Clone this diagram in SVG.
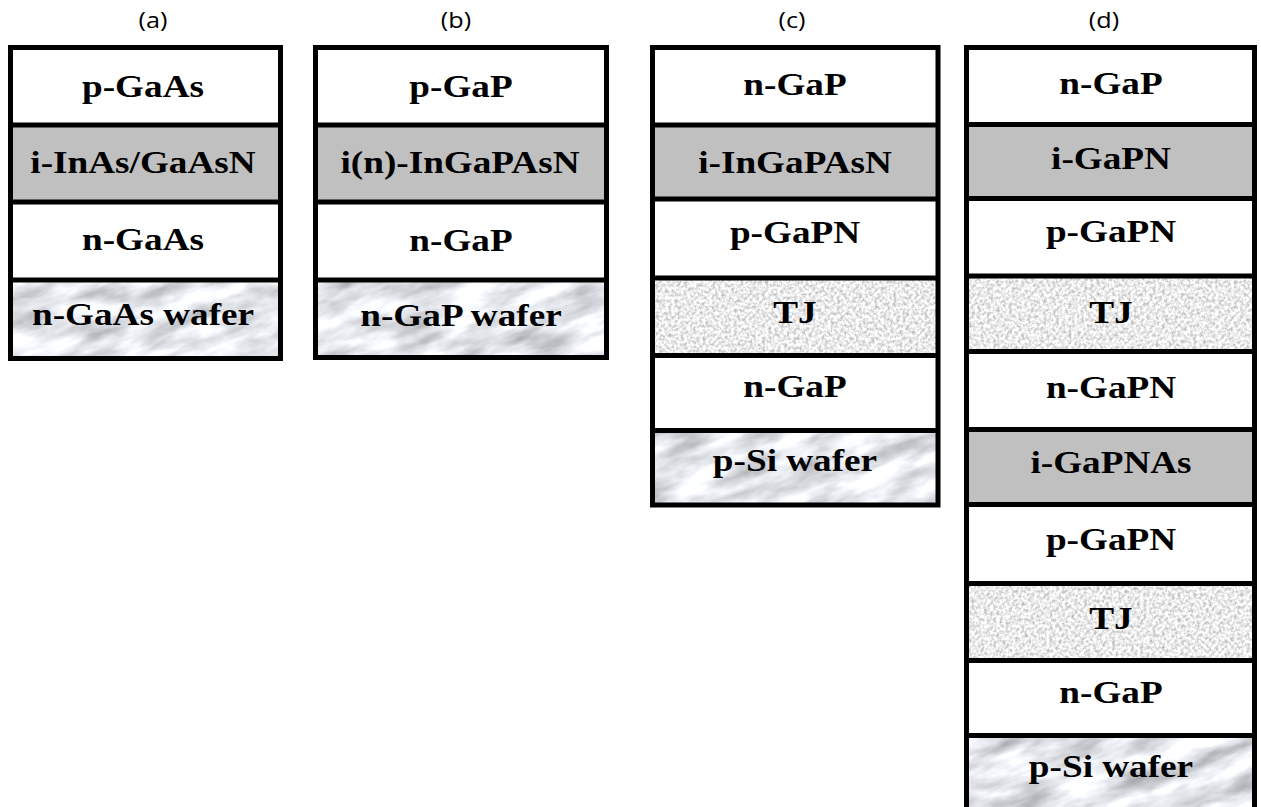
<svg xmlns="http://www.w3.org/2000/svg" width="1261" height="807" viewBox="0 0 1261 807">
  <style>
    .title { font-family: "Open Sans", "Liberation Sans", Arial, sans-serif; font-size: 21px; fill: #000; text-anchor: middle; }
    .lbl { font-family: "Liberation Serif", "Times New Roman", serif; font-weight: bold; font-size: 31px; fill: #000; text-anchor: middle; }
    .plain { fill: #ffffff; }
    .active { fill: #c0c0c0; }
    .tjbase { fill: #e6e6e6; }
    .waferbase { fill: #e2e4e8; }
    .sep { stroke: #000; stroke-width: 5; fill: none; }
    .frame { stroke: #000; stroke-width: 5; fill: none; }
  </style>
  <defs>
    <!-- marble-like streaks for substrate wafers -->
    <filter id="marble" x="0" y="0" width="1" height="1" color-interpolation-filters="sRGB">
      <feTurbulence type="fractalNoise" baseFrequency="0.018 0.055" numOctaves="4" seed="5" result="n"/>
      <feColorMatrix in="n" type="matrix" values="0.58 0 0 0 0.605  0.58 0 0 0 0.615  0.58 0 0 0 0.635  0 0 0 0 1"/>
      <feComposite in2="SourceGraphic" operator="in"/>
    </filter>
    <!-- fine grain for tunnel junction layers -->
    <filter id="grain" x="0" y="0" width="1" height="1" color-interpolation-filters="sRGB">
      <feTurbulence type="fractalNoise" baseFrequency="0.32" numOctaves="3" seed="9" result="n"/>
      <feColorMatrix in="n" type="matrix" values="0.58 0 0 0 0.63  0.58 0 0 0 0.63  0.58 0 0 0 0.63  0 0 0 0 1"/>
      <feComposite in2="SourceGraphic" operator="in"/>
    </filter>
    <clipPath id="clipWa"><rect x="10.5" y="280" width="270" height="78.5"/></clipPath>
    <clipPath id="clipWb"><rect x="315.5" y="280" width="291" height="77.5"/></clipPath>
    <clipPath id="clipWc"><rect x="652.5" y="430.5" width="285.5" height="74.5"/></clipPath>
    <clipPath id="clipWd"><rect x="966.5" y="735.5" width="288" height="76.5"/></clipPath>
  </defs>

  <!-- column captions -->
  <g id="titles">
    <text class="title" transform="translate(153 28) scale(1.2 1)">(a)</text>
    <text class="title" transform="translate(456 28) scale(1.2 1)">(b)</text>
    <text class="title" transform="translate(792 28) scale(1.2 1)">(c)</text>
    <text class="title" transform="translate(1104 27.5) scale(1.2 1)">(d)</text>
  </g>

  <!-- stack (a): InAs/GaAsN on GaAs -->
  <g id="stack-a">
    <g id="a-pGaAs">
      <rect class="plain" x="10.5" y="47.5" width="270" height="77.5"/>
      <text class="lbl" transform="translate(143 96.5) scale(1.2 1)">p-GaAs</text>
    </g>
    <g id="a-iInAsGaAsN">
      <rect class="active" x="10.5" y="125" width="270" height="77"/>
      <text class="lbl" transform="translate(143 172.5) scale(1.2 1)">i-InAs/GaAsN</text>
    </g>
    <g id="a-nGaAs">
      <rect class="plain" x="10.5" y="202" width="270" height="78"/>
      <text class="lbl" transform="translate(143 250) scale(1.2 1)">n-GaAs</text>
    </g>
    <g id="a-wafer">
      <rect class="waferbase" x="10.5" y="280" width="270" height="78.5"/>
      <g clip-path="url(#clipWa)">
        <rect x="-20" y="200" width="330" height="240" filter="url(#marble)" fill="#fff" transform="rotate(-18 145 319)"/>
      </g>
      <text class="lbl" transform="translate(143 325) scale(1.2 1)">n-GaAs wafer</text>
    </g>
    <path class="sep" d="M10.5 125H280.5M10.5 202H280.5M10.5 280H280.5"/>
    <rect class="frame" x="10.5" y="47.5" width="270" height="311"/>
  </g>

  <!-- stack (b): InGaPAsN on GaP -->
  <g id="stack-b">
    <g id="b-pGaP">
      <rect class="plain" x="315.5" y="47.5" width="291" height="77.5"/>
      <text class="lbl" transform="translate(461 96.5) scale(1.2 1)">p-GaP</text>
    </g>
    <g id="b-iInGaPAsN">
      <rect class="active" x="315.5" y="125" width="291" height="77"/>
      <text class="lbl" transform="translate(460 172.5) scale(1.2 1)">i(n)-InGaPAsN</text>
    </g>
    <g id="b-nGaP">
      <rect class="plain" x="315.5" y="202" width="291" height="78"/>
      <text class="lbl" transform="translate(461 250.5) scale(1.2 1)">n-GaP</text>
    </g>
    <g id="b-wafer">
      <rect class="waferbase" x="315.5" y="280" width="291" height="77.5"/>
      <g clip-path="url(#clipWb)">
        <rect x="280" y="200" width="360" height="240" filter="url(#marble)" fill="#fff" transform="rotate(-18 461 319)"/>
      </g>
      <text class="lbl" transform="translate(461 326) scale(1.2 1)">n-GaP wafer</text>
    </g>
    <path class="sep" d="M315.5 125H606.5M315.5 202H606.5M315.5 280H606.5"/>
    <rect class="frame" x="315.5" y="47.5" width="291" height="310"/>
  </g>

  <!-- stack (c): single junction on Si with tunnel junction -->
  <g id="stack-c">
    <g id="c-nGaP">
      <rect class="plain" x="652.5" y="47.5" width="285.5" height="77.5"/>
      <text class="lbl" transform="translate(795 94.5) scale(1.2 1)">n-GaP</text>
    </g>
    <g id="c-iInGaPAsN">
      <rect class="active" x="652.5" y="125" width="285.5" height="74"/>
      <text class="lbl" transform="translate(795 172.5) scale(1.2 1)">i-InGaPAsN</text>
    </g>
    <g id="c-pGaPN">
      <rect class="plain" x="652.5" y="199" width="285.5" height="79"/>
      <text class="lbl" transform="translate(795 242.5) scale(1.2 1)">p-GaPN</text>
    </g>
    <g id="c-TJ">
      <rect class="tjbase" x="652.5" y="278" width="285.5" height="77.5" filter="url(#grain)"/>
      <text class="lbl" transform="translate(795 322.5) scale(1.2 1)">TJ</text>
    </g>
    <g id="c-nGaP2">
      <rect class="plain" x="652.5" y="355.5" width="285.5" height="75"/>
      <text class="lbl" transform="translate(795 396.5) scale(1.2 1)">n-GaP</text>
    </g>
    <g id="c-wafer">
      <rect class="waferbase" x="652.5" y="430.5" width="285.5" height="74.5"/>
      <g clip-path="url(#clipWc)">
        <rect x="615" y="350" width="360" height="240" filter="url(#marble)" fill="#fff" transform="rotate(-18 795 468)"/>
      </g>
      <text class="lbl" transform="translate(795 470.5) scale(1.2 1)">p-Si wafer</text>
    </g>
    <path class="sep" d="M652.5 125H938M652.5 199H938M652.5 278H938M652.5 355.5H938M652.5 430.5H938"/>
    <rect class="frame" x="652.5" y="47.5" width="285.5" height="457.5"/>
  </g>

  <!-- stack (d): tandem GaPN / GaPNAs on Si -->
  <g id="stack-d">
    <g id="d-nGaP">
      <rect class="plain" x="966.5" y="47.5" width="288" height="77"/>
      <text class="lbl" transform="translate(1111 94) scale(1.2 1)">n-GaP</text>
    </g>
    <g id="d-iGaPN">
      <rect class="active" x="966.5" y="124.5" width="288" height="74"/>
      <text class="lbl" transform="translate(1111 168.5) scale(1.2 1)">i-GaPN</text>
    </g>
    <g id="d-pGaPN">
      <rect class="plain" x="966.5" y="198.5" width="288" height="77.5"/>
      <text class="lbl" transform="translate(1111 242) scale(1.2 1)">p-GaPN</text>
    </g>
    <g id="d-TJ1">
      <rect class="tjbase" x="966.5" y="276" width="288" height="75.5" filter="url(#grain)"/>
      <text class="lbl" transform="translate(1111 322.5) scale(1.2 1)">TJ</text>
    </g>
    <g id="d-nGaPN">
      <rect class="plain" x="966.5" y="351.5" width="288" height="78"/>
      <text class="lbl" transform="translate(1111 398) scale(1.2 1)">n-GaPN</text>
    </g>
    <g id="d-iGaPNAs">
      <rect class="active" x="966.5" y="429.5" width="288" height="75"/>
      <text class="lbl" transform="translate(1111 472.5) scale(1.2 1)">i-GaPNAs</text>
    </g>
    <g id="d-pGaPN2">
      <rect class="plain" x="966.5" y="504.5" width="288" height="79"/>
      <text class="lbl" transform="translate(1111 550) scale(1.2 1)">p-GaPN</text>
    </g>
    <g id="d-TJ2">
      <rect class="tjbase" x="966.5" y="583.5" width="288" height="77" filter="url(#grain)"/>
      <text class="lbl" transform="translate(1111 629) scale(1.2 1)">TJ</text>
    </g>
    <g id="d-nGaP2">
      <rect class="plain" x="966.5" y="660.5" width="288" height="75"/>
      <text class="lbl" transform="translate(1111 703) scale(1.2 1)">n-GaP</text>
    </g>
    <g id="d-wafer">
      <rect class="waferbase" x="966.5" y="735.5" width="288" height="76.5"/>
      <g clip-path="url(#clipWd)">
        <rect x="930" y="655" width="360" height="240" filter="url(#marble)" fill="#fff" transform="rotate(-18 1110 774)"/>
      </g>
      <text class="lbl" transform="translate(1111 776.5) scale(1.2 1)">p-Si wafer</text>
    </g>
    <path class="sep" d="M966.5 124.5H1254.5M966.5 198.5H1254.5M966.5 276H1254.5M966.5 351.5H1254.5M966.5 429.5H1254.5M966.5 504.5H1254.5M966.5 583.5H1254.5M966.5 660.5H1254.5M966.5 735.5H1254.5"/>
    <rect class="frame" x="966.5" y="47.5" width="288" height="764.5"/>
  </g>
</svg>
